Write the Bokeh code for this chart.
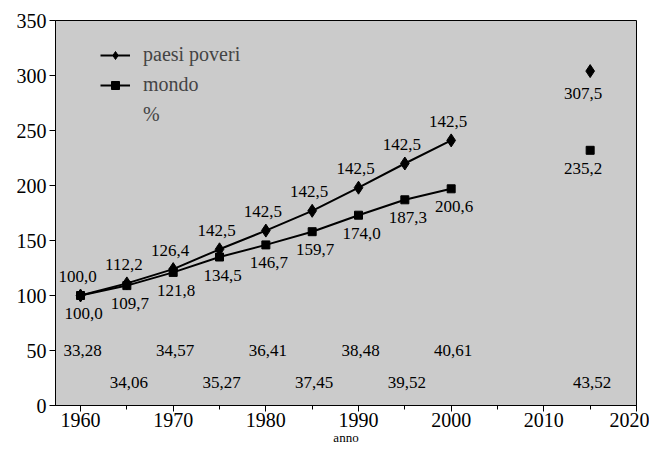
from bokeh.plotting import figure
from bokeh.models import Range1d, Legend, LegendItem, FixedTicker
from bokeh.core.properties import value
from bokeh.embed import file_html
from bokeh.resources import INLINE

# ---- data ----
years = [1960, 1965, 1970, 1975, 1980, 1985, 1990, 1995, 2000]
poveri = [100, 111, 124, 142, 159, 177, 198, 220, 241]
mondo = [100, 109, 121, 135, 146, 158, 173, 187, 197]
poveri_labels = ["100,0", "112,2", "126,4", "142,5", "142,5", "142,5", "142,5", "142,5", "142,5"]
mondo_labels = ["100,0", "109,7", "121,8", "134,5", "146,7", "159,7", "174,0", "187,3", "200,6"]

proj_year = [2015]
proj_poveri = [304]
proj_mondo = [232]
proj_poveri_labels = ["307,5"]
proj_mondo_labels = ["235,2"]

pct_years = [1960, 1965, 1970, 1975, 1980, 1985, 1990, 1995, 2000, 2015]
pct_labels = ["33,28", "34,06", "34,57", "35,27", "36,41", "37,45", "38,48", "39,52", "40,61", "43,52"]
pct_rows = [50, 21]

x_ticks = [1960, 1970, 1980, 1990, 2000, 2010, 2020]
y_ticks = [0, 50, 100, 150, 200, 250, 300, 350]

FONT = "Liberation Serif"

p = figure(width=649, height=450, output_backend="svg", toolbar_location=None,
           x_range=Range1d(1957.3, 2020), y_range=Range1d(0, 350),
           min_border_left=55, min_border_right=13, min_border_top=20, min_border_bottom=45)
p.background_fill_color = "#cbcbcb"
p.border_fill_color = "white"
p.outline_line_color = "black"
p.outline_line_width = 1
p.grid.visible = False

# series
l1 = p.line(years, poveri, line_color="black", line_width=2)
m1 = p.scatter(years, poveri, marker="diamond", size=13, color="black")
l2 = p.line(years, mondo, line_color="black", line_width=2)
m2 = p.scatter(years, mondo, marker="square", size=8, color="black")
p.scatter(proj_year, proj_poveri, marker="diamond", size=13, color="black")
p.scatter(proj_year, proj_mondo, marker="square", size=8, color="black")
dummy = p.scatter([], [], marker="square", size=1, alpha=0)

tkw = dict(text_font=value(FONT), text_font_size="17px", text_align="center",
           text_baseline="middle", text_color="black")
p.text(years, poveri, text=poveri_labels, x_offset=-3, y_offset=-19, **tkw)
p.text(years, mondo, text=mondo_labels, x_offset=3, y_offset=18, **tkw)
p.text(proj_year, proj_poveri, text=proj_poveri_labels, x_offset=-7, y_offset=22, **tkw)
p.text(proj_year, proj_mondo, text=proj_mondo_labels, x_offset=-7, y_offset=18, **tkw)
pct_y = [pct_rows[i % 2] for i in range(len(pct_years))]
p.text(pct_years, pct_y, text=pct_labels, x_offset=2, **tkw)

# axes
p.xaxis.ticker = FixedTicker(ticks=x_ticks, minor_ticks=list(range(1960, 2021, 5)))
p.yaxis.ticker = FixedTicker(ticks=y_ticks)
for ax in (p.xaxis, p.yaxis):
    ax.axis_line_color = "black"
    ax.major_tick_line_color = "black"
    ax.minor_tick_line_color = "black"
    ax.major_tick_out = 6
    ax.major_tick_in = 0
    ax.minor_tick_out = 4
    ax.minor_tick_in = 0
    ax.major_label_text_font = FONT
    ax.major_label_text_font_size = "20px"
    ax.major_label_text_color = "black"
p.yaxis.minor_tick_line_color = None
p.xaxis.major_label_standoff = 1
p.yaxis.major_label_standoff = 3
p.xaxis.axis_label = "anno"
p.xaxis.axis_label_text_font = FONT
p.xaxis.axis_label_text_font_size = "13px"
p.xaxis.axis_label_text_font_style = "normal"
p.xaxis.axis_label_text_color = "black"
p.xaxis.axis_label_standoff = 0

legend = Legend(items=[LegendItem(label="paesi poveri", renderers=[l1, m1]),
                       LegendItem(label="mondo", renderers=[l2, m2]),
                       LegendItem(label="%", renderers=[dummy])],
                location=(45, 279), margin=0, padding=0, spacing=7,
                glyph_width=30, glyph_height=20, label_height=20, label_standoff=13,
                label_text_font=FONT, label_text_font_size="20px",
                background_fill_alpha=0, border_line_alpha=0)
p.add_layout(legend)

open("out.html", "w").write(file_html(p, INLINE))
